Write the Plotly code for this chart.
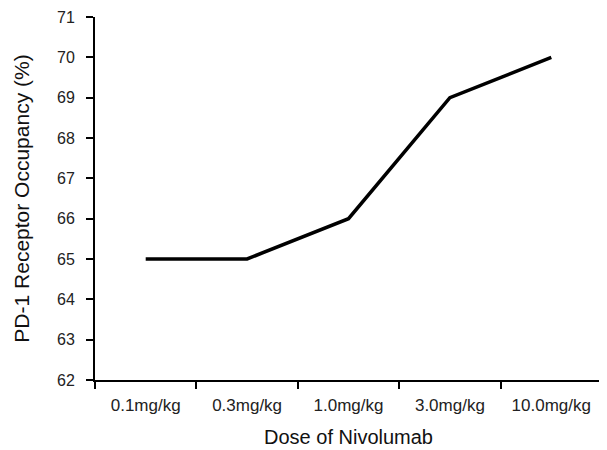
import plotly.graph_objects as go

doses = ["0.1mg/kg", "0.3mg/kg", "1.0mg/kg", "3.0mg/kg", "10.0mg/kg"]
occupancy = [65, 65, 66, 69, 70]
y_ticks = [62, 63, 64, 65, 66, 67, 68, 69, 70, 71]

fig = go.Figure()
fig.add_trace(go.Scatter(
    x=doses, y=occupancy, mode="lines",
    line=dict(color="black", width=3.5),
    showlegend=False,
))

font_family = "Liberation Sans, Arial, sans-serif"
fig.update_layout(
    width=599, height=442,
    margin=dict(l=87, r=5, t=9, b=70, autoexpand=False),
    paper_bgcolor="white", plot_bgcolor="white",
    font=dict(family=font_family, color="#222222"),
    xaxis=dict(
        type="category",
        range=[-0.5, 4.5],
        automargin=False,
        showline=True, linecolor="black", linewidth=2,
        ticks="outside", tickson="boundaries", ticklen=7, tickwidth=2, tickcolor="black",
        ticklabelstandoff=9,
        showgrid=False, zeroline=False,
        tickfont=dict(size=17, color="#222222"),
        title=dict(text="Dose of Nivolumab", font=dict(size=20, color="#111111"), standoff=16),
    ),
    yaxis=dict(
        range=[62, 71],
        tickvals=y_ticks,
        automargin=False,
        showline=True, linecolor="black", linewidth=2,
        ticks="outside", ticklen=7, tickwidth=2, tickcolor="black",
        ticklabelstandoff=8,
        showgrid=False, zeroline=False,
        tickfont=dict(size=16, color="#222222"),
        title=dict(text="PD-1 Receptor Occupancy (%)", font=dict(size=21, color="#111111"), standoff=22),
    ),
)

fig.write_html("out.html")
